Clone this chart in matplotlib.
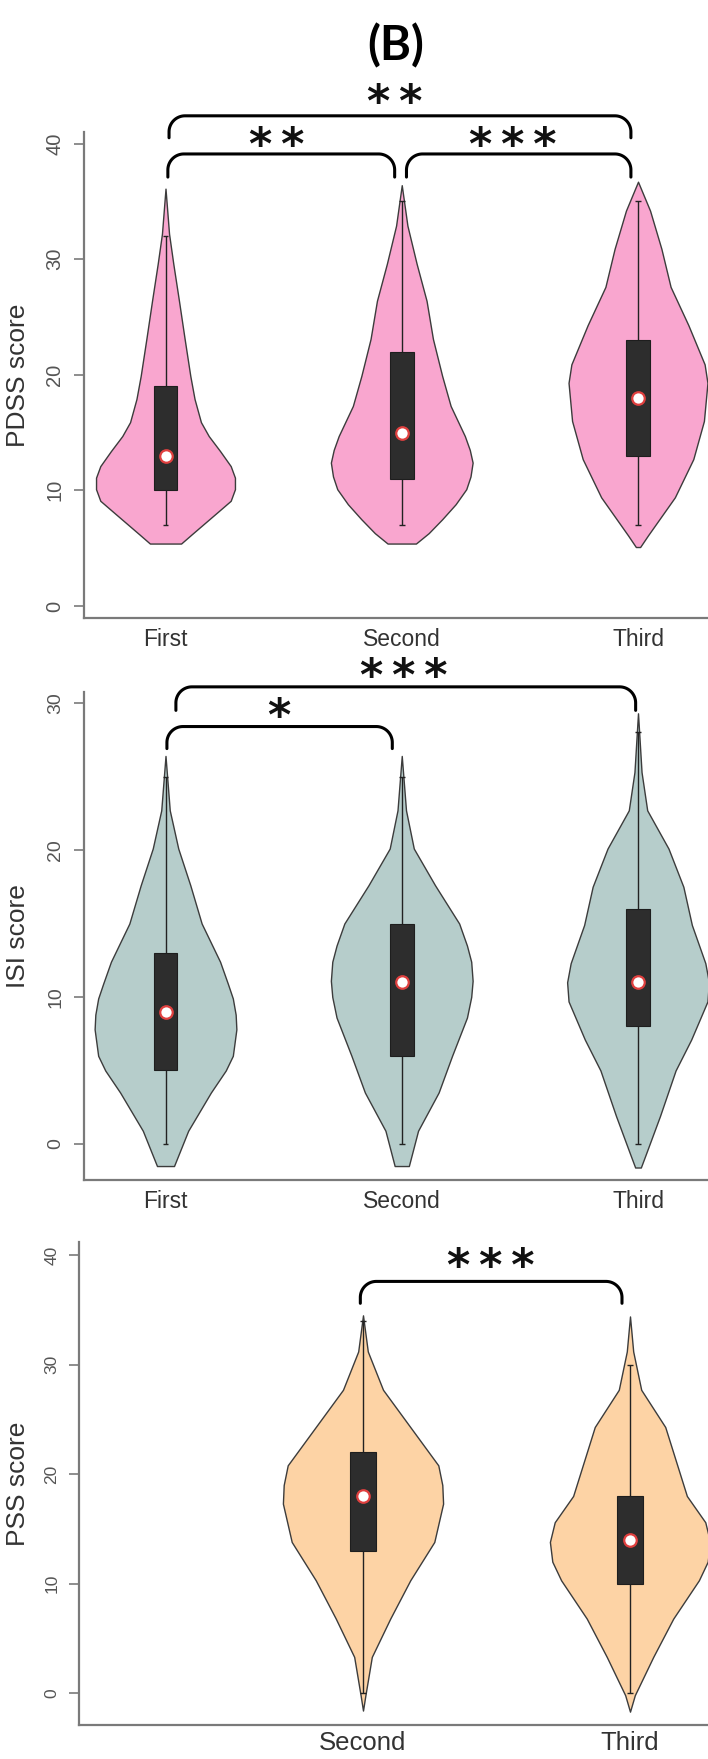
import numpy as np
import matplotlib
matplotlib.use('Agg')
import matplotlib.pyplot as plt

plt.rcParams['font.family'] = ['Liberation Sans', 'DejaVu Sans']

W, H = 708, 1759  # output size in px (dpi 100)

# ---------------- data ----------------
GROUPS = ['First', 'Second', 'Third']
POS = [1, 2, 3]

# PDSS: box-plot summary
PDSS_LO = [7, 7, 7]
PDSS_Q1 = [10, 11, 13]
PDSS_MED = [13, 15, 18]
PDSS_Q3 = [19, 22, 23]
PDSS_HI = [32, 35, 35]
# violin outlines: score level / relative half width
PDSS_FIRST_Y = [5.4, 6.2, 7.2, 8.2, 9.1, 10.1, 11.1, 12.1, 13.4, 14.7, 15.9, 17.9, 19.9,
                23.1, 26.4, 29.6, 32.2, 36.1]
PDSS_FIRST_W = [0.22, 0.37, 0.56, 0.75, 0.92, 0.98, 0.98, 0.92, 0.77, 0.61, 0.50, 0.41, 0.35,
                0.27, 0.19, 0.11, 0.05, 0.0]
PDSS_SECOND_Y = [5.4, 6.3, 7.5, 8.8, 10.1, 11.2, 12.4, 13.5, 14.7, 17.3, 19.9, 23.1, 26.4,
                 29.6, 32.9, 36.4]
PDSS_SECOND_W = [0.20, 0.38, 0.57, 0.76, 0.91, 0.97, 1.0, 0.96, 0.89, 0.69, 0.57, 0.44, 0.35,
                 0.21, 0.08, 0.0]
PDSS_THIRD_Y = [5.1, 6.1, 9.4, 12.7, 16.0, 19.3, 20.9, 24.3, 27.6, 30.9, 34.2, 36.7]
PDSS_THIRD_W = [0.03, 0.14, 0.52, 0.78, 0.93, 0.98, 0.94, 0.71, 0.46, 0.33, 0.17, 0.0]
PDSS_PAIRS = [(1, 2), (2, 3), (1, 3)]
PDSS_STARS = ['**', '***', '**']

# ISI
ISI_LO = [0, 0, 0]
ISI_Q1 = [5, 6, 8]
ISI_MED = [9, 11, 11]
ISI_Q3 = [13, 15, 16]
ISI_HI = [25, 25, 28]
ISI_FIRST_Y = [-1.5, 0.9, 3.5, 5.0, 6.0, 7.8, 8.8, 9.9, 10.9, 12.4, 15.0, 17.6, 20.1, 22.7, 26.4]
ISI_FIRST_W = [0.12, 0.32, 0.64, 0.85, 0.95, 1.0, 0.99, 0.95, 0.88, 0.77, 0.51, 0.35, 0.18,
               0.06, 0.0]
ISI_SECOND_Y = [-1.5, 0.9, 3.5, 6.0, 8.6, 10.0, 11.1, 12.4, 13.5, 15.0, 17.6, 20.1, 22.7, 26.4]
ISI_SECOND_W = [0.10, 0.23, 0.52, 0.71, 0.92, 0.98, 1.0, 0.98, 0.92, 0.81, 0.47, 0.17, 0.06, 0.0]
ISI_THIRD_Y = [-1.6, -0.7, 1.9, 5.0, 7.1, 9.7, 11.0, 12.3, 14.9, 17.5, 20.1, 22.7, 25.3, 29.3]
ISI_THIRD_W = [0.04, 0.11, 0.31, 0.53, 0.75, 0.98, 1.0, 0.95, 0.76, 0.64, 0.43, 0.13, 0.05, 0.0]
ISI_PAIRS = [(1, 2), (1, 3)]
ISI_STARS = ['*', '***']

# PSS (only second and third survey)
PSS_GROUPS = ['Second', 'Third']
PSS_POS = [2, 3]
PSS_LO = [0, 0]
PSS_Q1 = [13, 10]
PSS_MED = [18, 14]
PSS_Q3 = [22, 18]
PSS_HI = [34, 30]
PSS_SECOND_Y = [-1.6, -0.2, 3.3, 6.8, 10.3, 13.8, 17.3, 19.0, 20.8, 24.3, 27.7, 31.2, 34.5]
PSS_SECOND_W = [0.0, 0.03, 0.11, 0.34, 0.59, 0.89, 1.0, 0.99, 0.94, 0.59, 0.25, 0.06, 0.0]
PSS_THIRD_Y = [-1.7, -0.2, 3.3, 6.8, 10.3, 12.0, 13.8, 15.6, 18.0, 20.8, 24.3, 27.7, 31.2, 34.4]
PSS_THIRD_W = [0.0, 0.06, 0.29, 0.54, 0.86, 0.97, 1.0, 0.94, 0.71, 0.59, 0.44, 0.14, 0.04, 0.0]
PSS_PAIRS = [(2, 3)]
PSS_STARS = ['***']

# ---------------- style ----------------
PINK = '#F9A6CF'
SAGE = '#B6CDCB'
PEACH = '#FDD3A5'
EDGE = '#3c3c3c'
AXIS_GREY = '#7a7a7a'
HALF = 0.3      # max half width of a violin (x units)
BOX_W = 0.1


def make_axes(fig, left, right, top, bottom, x_anchor, px_per_unit, ylim):
    """place an axes by pixel edges; x_anchor = (x value, px)"""
    ax = fig.add_axes([left / W, 1 - bottom / H, (right - left) / W, (bottom - top) / H])
    xv, xp = x_anchor
    ax.set_xlim(xv - (xp - left) / px_per_unit, xv + (right - xp) / px_per_unit)
    ax.set_ylim(*ylim)
    for s in ['top', 'right']:
        ax.spines[s].set_visible(False)
    for s in ['left', 'bottom']:
        ax.spines[s].set_color(AXIS_GREY)
        ax.spines[s].set_linewidth(1.6)
    ax.tick_params(axis='x', length=0, pad=7, labelcolor='#333333')
    ax.tick_params(axis='y', length=7, width=1.2, color=AXIS_GREY, pad=7,
                   labelcolor='#555555', labelrotation=90)
    return ax


def violin(ax, pos, ys, ws, color):
    ys = np.asarray(ys, dtype=float)
    ws = np.asarray(ws, dtype=float) * HALF
    ax.fill_betweenx(ys, pos - ws, pos + ws, facecolor=color,
                     edgecolor=EDGE, linewidth=1.0, zorder=1)


def boxes(ax, pos, lo, q1, med, q3, hi):
    pos = np.asarray(pos, dtype=float)
    ax.vlines(pos, lo, hi, color='#222222', lw=1.0, zorder=2)
    ax.hlines(lo, pos - 0.012, pos + 0.012, color='#222222', lw=1.0, zorder=2)
    ax.hlines(hi, pos - 0.012, pos + 0.012, color='#222222', lw=1.0, zorder=2)
    ax.bar(pos, np.subtract(q3, q1), bottom=q1, width=BOX_W, color='#2d2d2d',
           edgecolor='#1e1e1e', linewidth=0.8, zorder=3)
    ax.plot(pos, med, 'o', ms=9, mfc='white', mec='#e0403f', mew=1.6,
            ls='none', zorder=4)


def bracket(ax, x1, x2, y_top, y_end, stars, star_x, star_y, r=16):
    T = ax.transData
    (p1x, ptop), (p2x, _) = T.transform([(x1, y_top), (x2, y_top)])
    pend = T.transform((x1, y_end))[1]
    t = np.linspace(0, np.pi / 2, 24)
    la = np.column_stack([p1x + r - r * np.cos(t), ptop - r + r * np.sin(t)])
    ra = np.column_stack([p2x - r + r * np.sin(t), ptop - r + r * np.cos(t)])
    pts = np.vstack([[p1x, pend], la, ra, [p2x, pend]])
    d = T.inverted().transform(pts)
    ax.plot(d[:, 0], d[:, 1], color='black', lw=2.2, clip_on=False,
            solid_capstyle='round', zorder=5)
    # '*' sits high in its line box, so shift the anchor down a little
    ax.annotate('\u2009'.join(stars), (star_x, star_y), xytext=(0, -6),
                textcoords='offset points', ha='center', va='center',
                fontsize=32, weight='bold', family=['DejaVu Sans'],
                color='#111111', annotation_clip=False)


def finish_y(ax, ticks, label, fs, label_x_px, left_px, width_px):
    ax.set_yticks(ticks)
    ax.set_yticklabels([str(t) for t in ticks], fontsize=fs)
    for lab in ax.get_yticklabels():
        lab.set_va('center')
    ax.set_ylabel(label, fontsize=19, color='#333333')
    ax.yaxis.set_label_coords((label_x_px - left_px) / width_px, 0.5)


fig = plt.figure(figsize=(W / 100, H / 100), dpi=100)
fig.text(396 / W, 1 - 46 / H, '(B)', fontsize=34, weight='bold',
         family=['Lato', 'DejaVu Sans'], ha='center', va='center')

# ---- panel 1: PDSS ----
ax1 = make_axes(fig, 83.5, 720, 132, 618, (1, 165.5), 236.25, (-1.04, 41.0))
for p, ys, ws in zip(POS, [PDSS_FIRST_Y, PDSS_SECOND_Y, PDSS_THIRD_Y],
                     [PDSS_FIRST_W, PDSS_SECOND_W, PDSS_THIRD_W]):
    violin(ax1, p, ys, ws, PINK)
boxes(ax1, POS, PDSS_LO, PDSS_Q1, PDSS_MED, PDSS_Q3, PDSS_HI)
ax1.set_xticks(POS)
ax1.set_xticklabels(GROUPS, fontsize=16.5)
finish_y(ax1, [0, 10, 20, 30, 40], 'PDSS score', 14.5, 30, 83.5, 636.5)
# bracket levels: (y_top, y_end, star_y, x offsets)
lv1 = [(39.1, 37.1, 40.5, 0.01, -0.03), (39.1, 37.1, 40.5, 0.02, -0.03),
       (42.4, 40.5, 44.2, 0.015, -0.03)]
for (a, b), s, (yt, ye, sy, o1, o2) in zip(PDSS_PAIRS, PDSS_STARS, lv1):
    bracket(ax1, a + o1, b + o2, yt, ye, s, (a + b) / 2 - 0.03, sy)

# ---- panel 2: ISI ----
ax2 = make_axes(fig, 83.5, 720, 692, 1180, (1, 165.5), 236.25, (-2.45, 30.75))
for p, ys, ws in zip(POS, [ISI_FIRST_Y, ISI_SECOND_Y, ISI_THIRD_Y],
                     [ISI_FIRST_W, ISI_SECOND_W, ISI_THIRD_W]):
    violin(ax2, p, ys, ws, SAGE)
boxes(ax2, POS, ISI_LO, ISI_Q1, ISI_MED, ISI_Q3, ISI_HI)
ax2.set_xticks(POS)
ax2.set_xticklabels(GROUPS, fontsize=16.5)
finish_y(ax2, [0, 10, 20, 30], 'ISI score', 14, 30, 83.5, 636.5)
lv2 = [(28.4, 26.9, 29.6, 0.006, -0.04), (31.1, 29.5, 32.3, 0.044, -0.01)]
for (a, b), s, (yt, ye, sy, o1, o2) in zip(ISI_PAIRS, ISI_STARS, lv2):
    bracket(ax2, a + o1, b + o2, yt, ye, s, (a + b) / 2 + 0.03 * (b - a - 1) - 0.02, sy)

# ---- panel 3: PSS ----
ax3 = make_axes(fig, 79, 720, 1242, 1725, (2, 363), 267, (-2.92, 41.2))
for p, ys, ws in zip(PSS_POS, [PSS_SECOND_Y, PSS_THIRD_Y], [PSS_SECOND_W, PSS_THIRD_W]):
    violin(ax3, p, ys, ws, PEACH)
boxes(ax3, PSS_POS, PSS_LO, PSS_Q1, PSS_MED, PSS_Q3, PSS_HI)
ax3.set_xticks(PSS_POS)
ax3.set_xticklabels(PSS_GROUPS, fontsize=18.5)
ax3.tick_params(axis='x', pad=4)
finish_y(ax3, [0, 10, 20, 30, 40], 'PSS score', 12.5, 30, 79, 641)
for (a, b), s in zip(PSS_PAIRS, PSS_STARS):
    bracket(ax3, a - 0.01, b - 0.03, 37.6, 35.6, s, (a + b) / 2 - 0.02, 39.6)

fig.savefig('out.png', dpi=100)
